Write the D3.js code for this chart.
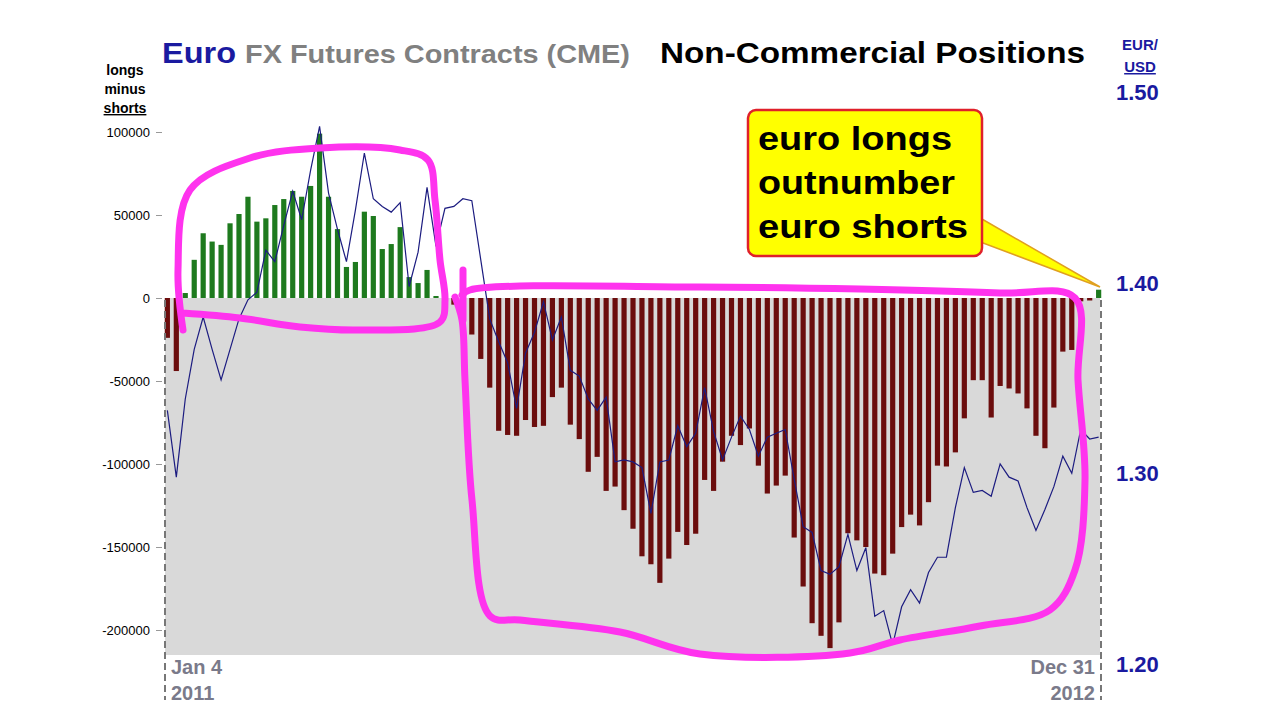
<!DOCTYPE html>
<html><head><meta charset="utf-8">
<script src="https://cdn.jsdelivr.net/npm/d3@7"></script>
<style>body{margin:0;background:#fff}svg{font-family:Arial,"Liberation Sans",sans-serif;font-weight:bold}</style>
</head><body><svg id="c" width="1280" height="720"></svg>
<script>
const netPositions = [-24000,-44000,3000,
 23000,39000,34000,32000,45000,50600,61000,46000,48000,56000,59600,64500,61000,67500,99000,61000,41500,18700,21700,52000,49400,29500,32500,42700,12600,9000,16900,1200,-8400,
 -4000,-5000,-22000,
 -36700,-54000,-80000,-82500,-83000,-73500,-77700,-77000,-59700,-54000,-76300,-85000,-104700,-95700,-116200,-113600,-127800,-139000,-155600,-160400,-171600,-157000,-140900,-148800,-142000,-109600,-116200,-98600,-83000,-88600,-78600,-101000,-117800,-113000,
 -107000,-144300,-173800,-195900,-203500,-210900,-195400,
 -141700,-146000,-150000,-166000,-167000,-154000,-138000,-130500,-137000,-123000,-101000,-101500,-93000,-72500,-49500,-49500,-72000,-53000,-54500,-57500,-66500,-83000,-90500,-66000,-32300,-31300,-2000,-1500,5000];
const eurUsd = [1.333,1.298,1.339,1.365,1.382,1.365,1.349,1.365,1.381,1.391,1.395,1.417,1.411,1.430,1.448,1.433,1.459,1.482,1.447,1.428,1.411,1.438,1.468,1.444,1.440,1.437,1.442,1.398,1.416,1.450,1.419,1.439,1.440,1.444,1.443,1.412,1.381,1.369,1.358,1.334,1.363,1.374,1.390,1.370,1.382,1.354,1.351,1.339,1.333,1.340,1.306,1.307,1.306,1.303,1.279,1.306,1.307,1.325,1.314,1.321,1.345,1.322,1.307,1.319,1.330,1.323,1.309,1.319,1.321,1.323,1.297,1.272,1.269,1.249,1.247,1.251,1.268,1.249,1.261,1.225,1.228,1.210,1.230,1.239,1.232,1.248,1.256,1.256,1.282,1.303,1.290,1.291,1.288,1.305,1.298,1.296,1.282,1.270,1.281,1.293,1.309,1.300,1.323,1.318,1.319];
const leftTicks = [100000,50000,0,-50000,-100000,-150000,-200000];
const rightTicks = [1.50,1.40,1.30,1.20];
const calloutLines = ["euro longs","outnumber","euro shorts"];

const svg = d3.select("#c");
const y = d3.scaleLinear().domain([-200000,100000]).range([630,132]);
const y2 = d3.scaleLinear().domain([1.20,1.50]).range([664,92]);
const x = d3.scaleBand().domain(d3.range(netPositions.length)).range([161,1105]).padding(0.42);

svg.append("rect").attr("x",165).attr("y",y(0)).attr("width",935).attr("height",655-y(0)).attr("fill","#d9d9d9");

const la = svg.append("g").attr("transform","translate(162,0)")
  .call(d3.axisLeft(y).tickValues(leftTicks).tickFormat(d=>d).tickSize(6).tickPadding(6));
la.select(".domain").remove();
la.selectAll("line").attr("stroke","#999");
la.selectAll("text").attr("font-size",13).attr("font-weight","normal").attr("fill","#000").attr("font-family","Arial,'Liberation Sans',sans-serif");

svg.append("g").selectAll("rect").data(netPositions).join("rect")
  .attr("x",(d,i)=>x(i)).attr("width",x.bandwidth())
  .attr("y",d=>d>=0?y(d):y(0)).attr("height",d=>Math.abs(y(d)-y(0)))
  .attr("fill",d=>d>=0?"#1e7a1e":"#6b0d0d");

svg.append("path").datum(eurUsd).attr("fill","none").attr("stroke","#1c1c80").attr("stroke-width",1.2)
  .attr("d",d3.line().x((d,i)=>x(i)+x.bandwidth()/2).y(d=>y2(d)));

svg.append("line").attr("x1",165).attr("x2",165).attr("y1",300).attr("y2",700).attr("stroke","#777").attr("stroke-width",2).attr("stroke-dasharray","7,4");
svg.append("line").attr("x1",1101).attr("x2",1101).attr("y1",300).attr("y2",700).attr("stroke","#777").attr("stroke-width",2).attr("stroke-dasharray","7,4");

svg.append("g").selectAll("text").data(rightTicks).join("text")
  .attr("x",1116).attr("y",d=>y2(d)+8).attr("font-size",22).attr("fill","#1a1aa0").text(d=>d.toFixed(2));
svg.append("text").attr("x",1140).attr("y",50).attr("text-anchor","middle").attr("font-size",15).attr("fill","#1a1aa0").text("EUR/");
svg.append("text").attr("x",1140).attr("y",72).attr("text-anchor","middle").attr("font-size",15).attr("fill","#1a1aa0").attr("text-decoration","underline").text("USD");

[["longs",75,false],["minus",94,false],["shorts",113,true]].forEach(([t,yy,u])=>{
  svg.append("text").attr("x",125).attr("y",yy).attr("text-anchor","middle").attr("font-size",14).attr("fill","#000")
   .attr("text-decoration",u?"underline":null).text(t);
});

function fit(sel,w){return sel.attr("textLength",w).attr("lengthAdjust","spacingAndGlyphs");}
fit(svg.append("text").attr("x",162).attr("y",63).attr("font-size",29).attr("fill","#1a1aa0").text("Euro"),74);
fit(svg.append("text").attr("x",245).attr("y",63).attr("font-size",25).attr("fill","#808080").text("FX Futures Contracts (CME)"),385);
fit(svg.append("text").attr("x",660).attr("y",63).attr("font-size",29).attr("fill","#000").text("Non-Commercial Positions"),425);

svg.append("text").attr("x",171).attr("y",674).attr("font-size",20).attr("fill","#7a7a8a").text("Jan 4");
svg.append("text").attr("x",171).attr("y",700).attr("font-size",20).attr("fill","#7a7a8a").text("2011");
svg.append("text").attr("x",1095).attr("y",674).attr("text-anchor","end").attr("font-size",20).attr("fill","#7a7a8a").text("Dec 31");
svg.append("text").attr("x",1095).attr("y",700).attr("text-anchor","end").attr("font-size",20).attr("fill","#7a7a8a").text("2012");

const mline = d3.line().curve(d3.curveCatmullRom);
const pink = {fill:"none",stroke:"#ff33ee","stroke-width":7,"stroke-linecap":"round","stroke-linejoin":"round"};
function draw(pts){const p=svg.append("path").attr("d",mline(pts));Object.entries(pink).forEach(([k,v])=>p.attr(k,v));}
draw([[183,330],[178,270],[190,190],[250,158],[320,148],[400,150],[428,160],[435,200],[440,260],[445,300],[440,322],[360,330],[300,327],[240,318],[183,313]]);
draw([[462,295],[470,290],[700,287],[1000,293],[1075,298],[1078,380],[1085,480],[1075,570],[1050,610],[980,626],[900,640],[850,653],[700,654],[620,632],[520,620],[490,616],[472,500],[465,380],[462,320],[455,297]]);
draw([[463,270],[463,320]]);

svg.append("path").attr("d","M975,215 L1100,287 L975,240 Z").attr("fill","#ffff00").attr("stroke","#e0a020").attr("stroke-width",1.5);
svg.append("rect").attr("x",748).attr("y",110).attr("width",234).attr("height",146).attr("rx",8)
  .attr("fill","#ffff00").attr("stroke","#e0202a").attr("stroke-width",2.5);
const cw=[194,197,210];
calloutLines.forEach((s,i)=>fit(svg.append("text").attr("x",758).attr("y",150+i*44).attr("font-size",33).attr("fill","#000").text(s),cw[i]));
</script></body></html>
